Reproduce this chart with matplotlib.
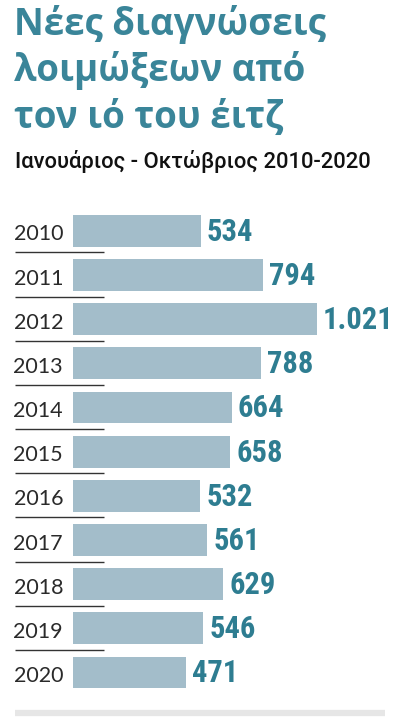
import matplotlib
matplotlib.use("Agg")
import matplotlib.pyplot as plt

# data
years = ["2010", "2011", "2012", "2013", "2014", "2015",
         "2016", "2017", "2018", "2019", "2020"]
cases = [534, 794, 1021, 788, 664, 658, 532, 561, 629, 546, 471]
labels = ["534", "794", "1.021", "788", "664", "658",
          "532", "561", "629", "546", "471"]

title_lines = ["Νέες διαγνώσεις", "λοιμώξεων από", "τον ιό του έιτζ"]
subtitle = "Ιανουάριος - Οκτώβριος 2010-2020"

W, H = 400, 727
bar_col = "#a3bdca"
val_col = "#2e7d91"
title_col = "#3a8599"

fig = plt.figure(figsize=(W / 100, H / 100), dpi=100)
ax = fig.add_axes([0, 0, 1, 1])
ax.axis("off")

# pixel scale: x units per pixel, rows per pixel
sx = 244 / max(cases)
x0 = 73
row = 44.17
y0 = 230.8
ax.set_xlim(-x0 / sx, (W - x0) / sx)
ax.set_ylim((H - y0) / row, -y0 / row)

def px(x):
    return (x - x0) / sx

idx = list(range(len(years)))
ax.barh(idx, cases, height=0.72, color=bar_col, left=0)

for i, (v, lab, yr) in enumerate(zip(cases, labels, years)):
    ax.text(v + 6 / sx, i + 0.02, lab, ha="left", va="center",
            color=val_col, fontsize=22, fontweight="bold",
            family=["Liberation Sans Narrow", "Roboto Condensed", "DejaVu Sans"])
    ax.text(px(63), i + 0.08, yr, ha="right", va="center",
            color="#2a2a2a", fontsize=15.5, fontweight="normal",
            family=["Lato", "DejaVu Sans"])
    if i < len(years) - 1:
        ax.plot([px(15), px(104)], [i + 0.49, i + 0.49],
                color="#333333", lw=1.0, solid_capstyle="butt")

# bottom grey strip
ax.plot([px(15), px(385)], [(712.5 - y0) / row] * 2, color="#e6e6e6",
        lw=4.5, solid_capstyle="butt")

# title block
for k, t in enumerate(title_lines):
    fig.text(14 / W, 1 - (34.5 + 46.8 * k) / H, t, ha="left", va="baseline",
             color=title_col, fontsize=26.5, fontweight="bold",
             family=["Open Sans", "DejaVu Sans"])
fig.text(15 / W, 1 - 168 / H, subtitle, ha="left", va="baseline",
         color="#111111", fontsize=15.8, fontweight="medium",
         family=["Roboto", "DejaVu Sans"])

fig.savefig("out.png", dpi=100, facecolor="white")
